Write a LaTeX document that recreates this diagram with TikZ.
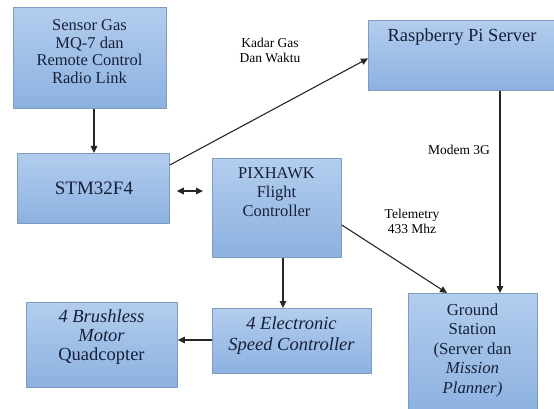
\documentclass[tikz,border=0pt]{standalone}
\usepackage{fontspec}
\setmainfont{Liberation Serif}
\usetikzlibrary{arrows.meta,calc}
\definecolor{boxtop}{HTML}{B3CDEE}
\definecolor{boxbot}{HTML}{8CB1E0}
\definecolor{boxline}{HTML}{7F9CBF}
\definecolor{txt}{HTML}{16203A}
\tikzset{
  blk/.style={draw=boxline, line width=0.8pt, top color=boxtop, bottom color=boxbot,
    inner sep=0pt, anchor=north west},
  btxt/.style={align=center, text=txt, inner sep=0pt},
  lbl/.style={align=center, text=black, inner sep=0pt, font=\fontsize{13.5}{15}\selectfont},
  arr/.style={line width=1.1pt, draw=black!85, -{Triangle[length=7pt,width=6.5pt]}},
  darr/.style={line width=1.1pt, draw=black!85, {Triangle[length=7pt,width=6.5pt]}-{Triangle[length=7pt,width=6.5pt]}}
}
\begin{document}
\begin{tikzpicture}[x=1pt,y=-1pt]
\useasboundingbox (0,0) rectangle (554,409);
% boxes
\node[blk, minimum width=153pt, minimum height=101pt] (sen) at (13,7) {};
\node[blk, minimum width=152pt, minimum height=70pt] (stm) at (17,153) {};
\node[blk, minimum width=129pt, minimum height=99pt] (pix) at (212,158) {};
\node[blk, minimum width=190pt, minimum height=70pt] (ras) at (368,20) {};
\node[blk, minimum width=129pt, minimum height=120pt] (gs) at (408,293) {};
\node[blk, minimum width=159pt, minimum height=65pt] (esc) at (212,308) {};
\node[blk, minimum width=151pt, minimum height=85pt] (bm) at (26,302) {};
% box texts
\node[btxt, font=\fontsize{16.5}{17.7}\selectfont] (tsen) at (89.5,51.5) {Sensor Gas\\MQ-7 dan\\Remote Control\\Radio Link};
\node[btxt, font=\fontsize{19}{21}\selectfont] (tstm) at (94,188) {STM32F4};
\node[btxt, font=\fontsize{16.5}{19}\selectfont] (tpix) at (276.5,192) {PIXHAWK\\Flight\\Controller};
\node[btxt, font=\fontsize{18.5}{21}\selectfont] (tras) at (462,37) {Raspberry Pi Server};
\node[btxt, font=\fontsize{16.8}{19.5}\selectfont] (tgs) at (472.5,350) {Ground\\Station\\(Server dan\\\textit{Mission}\\\textit{Planner)}};
\node[btxt, font=\fontsize{18.5}{21}\selectfont\itshape] (tesc) at (291.5,336) {4 Electronic\\Speed Controller};
\node[btxt, font=\fontsize{18.5}{19}\selectfont] (tbm) at (101.5,337) {\textit{4 Brushless}\\\textit{Motor}\\Quadcopter};
% labels
\node[lbl] (lkadar) at (270,50) {Kadar Gas\\Dan Waktu};
\node[lbl] (lmodem) at (459,150) {Modem 3G};
\node[lbl] (ltele) at (412,221) {Telemetry\\433 Mhz};
% connectors
\draw[arr] (sen.south -| tstm) -- (stm.north -| tstm);
\draw[darr, shorten <=7pt, shorten >=9pt] (stm.east |- 0,191) -- (pix.west |- 0,191);
\draw[arr] (stm.east |- 0,165) -- ([yshift=-3pt]ras.west);
\coordinate (rx) at ([xshift=132pt]ras.south west);
\draw[arr] (rx) -- (rx |- gs.north);
\draw[arr] (pix.east |- 0,225) -- ([xshift=39pt]gs.north west);
\coordinate (px) at ([xshift=71pt]pix.south west);
\draw[arr] (px) -- (px |- esc.north);
\draw[arr] (esc.west |- 0,340) -- (bm.east |- 0,340);
\end{tikzpicture}
\end{document}
